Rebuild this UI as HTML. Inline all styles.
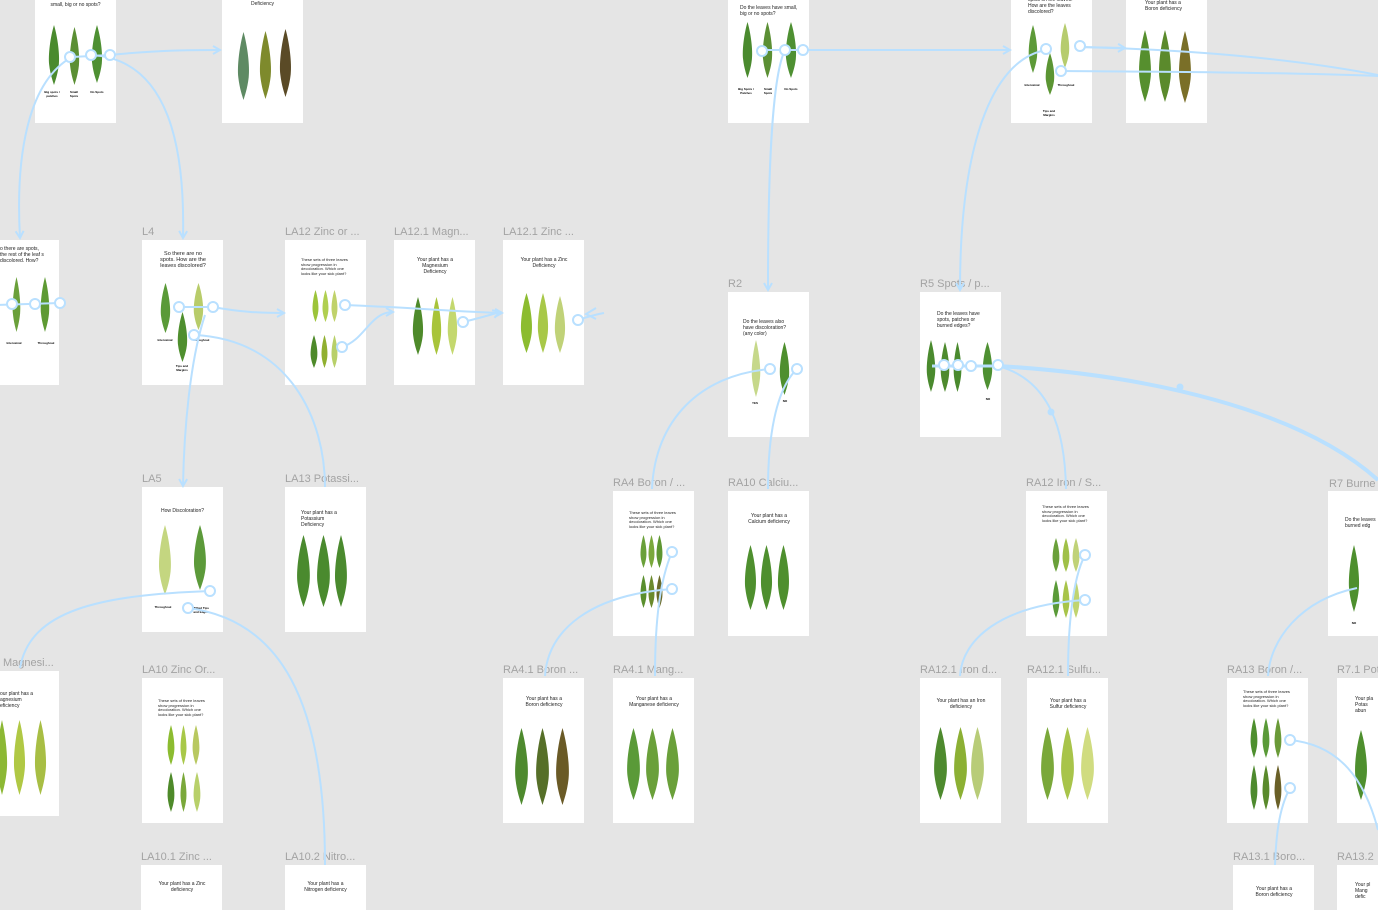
<!DOCTYPE html>
<html style="height:910px;overflow:hidden"><head><meta charset="utf-8"><style>
body{margin:0;width:1378px;height:910px;overflow:hidden;background:#e5e5e5;position:relative;font-family:"Liberation Sans",sans-serif}
.c{position:absolute;background:#fff;width:81px;height:145px}
.b{height:45px}
.l{position:absolute;color:#a3a3a3;font-size:11px;white-space:nowrap}
.t{position:absolute;font-size:5px;line-height:6px;color:#222;text-align:center}
.s{position:absolute;font-size:3px;line-height:4px;color:#000;font-weight:bold;text-align:center}
svg{position:absolute;left:0;top:0}
</style></head><body>
<div class="c" style="left:35px;top:-22px"></div><div class="t" style="left:35px;top:2px;width:81px">small, big or no spots?</div>
<div class="s" style="left:42px;top:90px;width:20px">Big spots / patches</div><div class="s" style="left:66px;top:90px;width:16px">Small Spots</div><div class="s" style="left:88px;top:90px;width:18px">No Spots</div>
<div class="c" style="left:222px;top:-22px"></div><div class="t" style="left:222px;top:1px;width:81px">Deficiency</div>
<div class="c" style="left:728px;top:-22px"></div><div class="t" style="left:740px;top:5px;width:58px;text-align:left">Do the leaves have small, big or no spots?</div>
<div class="s" style="left:736px;top:87px;width:20px">Big Spots / Patches</div><div class="s" style="left:760px;top:87px;width:16px">Small Spots</div><div class="s" style="left:782px;top:87px;width:18px">No Spots</div>
<div class="c" style="left:1011px;top:-22px"></div><div class="t" style="left:1028px;top:-3px;width:48px;text-align:left">spots on the leaves. How are the leaves discolored?</div>
<div class="s" style="left:1020px;top:83px;width:24px">Interveinal</div><div class="s" style="left:1054px;top:83px;width:24px">Throughout</div><div class="s" style="left:1040px;top:109px;width:18px">Tips and Margins</div>
<div class="c" style="left:1126px;top:-22px"></div><div class="t" style="left:1145px;top:0px;width:45px;text-align:left">Your plant has a Boron deficiency</div>

<div class="c" style="left:-22px;top:240px"></div><div class="t" style="left:0px;top:246px;width:46px;text-align:left">o there are spots, the rest of the leaf s discolored. How?</div>
<div class="s" style="left:4px;top:341px;width:20px">Interveinal</div><div class="s" style="left:36px;top:341px;width:20px">Throughout</div>
<div class="l" style="left:142px;top:226px">L4</div><div class="c" style="left:142px;top:240px"></div><div class="t" style="left:158px;top:251px;width:50px;font-size:5.5px">So there are no spots. How are the leaves discolored?</div>
<div class="s" style="left:154px;top:338px;width:22px">Interveinal</div><div class="s" style="left:190px;top:338px;width:22px">Throughout</div><div class="s" style="left:172px;top:364px;width:20px">Tips and Margins</div>
<div class="l" style="left:285px;top:226px">LA12 Zinc or ...</div><div class="c" style="left:285px;top:240px"></div><div class="t" style="left:301px;top:258px;width:48px;text-align:left;font-size:4px;line-height:4.5px">These sets of three leaves show progression in decoloration. Which one looks like your sick plant?</div>
<div class="l" style="left:394px;top:226px">LA12.1 Magn...</div><div class="c" style="left:394px;top:240px"></div><div class="t" style="left:410px;top:257px;width:50px">Your plant has a Magnesium Deficiency</div>
<div class="l" style="left:503px;top:226px">LA12.1 Zinc ...</div><div class="c" style="left:503px;top:240px"></div><div class="t" style="left:519px;top:257px;width:50px">Your plant has a Zinc Deficiency</div>
<div class="l" style="left:728px;top:278px">R2</div><div class="c" style="left:728px;top:292px"></div><div class="t" style="left:743px;top:319px;width:50px;text-align:left">Do the leaves also have discoloration? (any color)</div>
<div class="s" style="left:748px;top:401px;width:14px">YES</div><div class="s" style="left:778px;top:399px;width:14px">NO</div>
<div class="l" style="left:920px;top:278px">R5 Spots / p...</div><div class="c" style="left:920px;top:292px"></div><div class="t" style="left:937px;top:311px;width:50px;text-align:left">Do the leaves have spots, patches or burned edges?</div>
<div class="s" style="left:982px;top:397px;width:12px">NO</div>

<div class="l" style="left:142px;top:473px">LA5</div><div class="c" style="left:142px;top:487px"></div><div class="t" style="left:142px;top:508px;width:81px">How Discoloration?</div>
<div class="s" style="left:150px;top:605px;width:26px">Throughout</div><div class="s" style="left:190px;top:606px;width:22px">Wilted Tips and Edges</div>
<div class="l" style="left:285px;top:473px">LA13 Potassi...</div><div class="c" style="left:285px;top:487px"></div><div class="t" style="left:301px;top:510px;width:45px;text-align:left">Your plant has a Potassium Deficiency</div>
<div class="l" style="left:613px;top:477px">RA4 Boron / ...</div><div class="c" style="left:613px;top:491px"></div><div class="t" style="left:629px;top:511px;width:48px;text-align:left;font-size:4px;line-height:4.5px">These sets of three leaves show progression in decoloration. Which one looks like your sick plant?</div>
<div class="l" style="left:728px;top:477px">RA10 Calciu...</div><div class="c" style="left:728px;top:491px"></div><div class="t" style="left:743px;top:513px;width:52px">Your plant has a Calcium deficiency</div>
<div class="l" style="left:1026px;top:477px">RA12 Iron / S...</div><div class="c" style="left:1026px;top:491px"></div><div class="t" style="left:1042px;top:505px;width:48px;text-align:left;font-size:4px;line-height:4.5px">These sets of three leaves show progression in decoloration. Which one looks like your sick plant?</div>
<div class="l" style="left:1329px;top:478px">R7 Burne</div><div class="c" style="left:1328px;top:491px"></div><div class="t" style="left:1345px;top:517px;width:40px;text-align:left">Do the leaves burned edg</div><div class="s" style="left:1348px;top:621px;width:12px">NO</div>

<div class="l" style="left:3px;top:657px">Magnesi...</div><div class="c" style="left:-22px;top:671px"></div><div class="t" style="left:0px;top:691px;width:38px;text-align:left">our plant has a agnesium eficiency</div>
<div class="l" style="left:142px;top:664px">LA10 Zinc Or...</div><div class="c" style="left:142px;top:678px"></div><div class="t" style="left:158px;top:699px;width:48px;text-align:left;font-size:4px;line-height:4.5px">These sets of three leaves show progression in decoloration. Which one looks like your sick plant?</div>
<div class="l" style="left:503px;top:664px">RA4.1 Boron ...</div><div class="c" style="left:503px;top:678px"></div><div class="t" style="left:519px;top:696px;width:50px">Your plant has a Boron deficiency</div>
<div class="l" style="left:613px;top:664px">RA4.1 Mang...</div><div class="c" style="left:613px;top:678px"></div><div class="t" style="left:629px;top:696px;width:50px">Your plant has a Manganese deficiency</div>
<div class="l" style="left:920px;top:664px">RA12.1 Iron d...</div><div class="c" style="left:920px;top:678px"></div><div class="t" style="left:936px;top:698px;width:50px">Your plant has an Iron deficiency</div>
<div class="l" style="left:1027px;top:664px">RA12.1 Sulfu...</div><div class="c" style="left:1027px;top:678px"></div><div class="t" style="left:1043px;top:698px;width:50px">Your plant has a Sulfur deficiency</div>
<div class="l" style="left:1227px;top:664px">RA13 Boron /...</div><div class="c" style="left:1227px;top:678px"></div><div class="t" style="left:1243px;top:690px;width:48px;text-align:left;font-size:4px;line-height:4.5px">These sets of three leaves show progression in decoloration. Which one looks like your sick plant?</div>
<div class="l" style="left:1337px;top:664px">R7.1 Pot</div><div class="c" style="left:1337px;top:678px"></div><div class="t" style="left:1355px;top:696px;width:25px;text-align:left">Your pla Potas abun</div>
<div class="l" style="left:141px;top:851px">LA10.1 Zinc ...</div><div class="c b" style="left:141px;top:865px"></div><div class="t" style="left:157px;top:881px;width:50px">Your plant has a Zinc deficiency</div>
<div class="l" style="left:285px;top:851px">LA10.2 Nitro...</div><div class="c b" style="left:285px;top:865px"></div><div class="t" style="left:298px;top:881px;width:55px">Your plant has a Nitrogen deficiency</div>
<div class="l" style="left:1233px;top:851px">RA13.1 Boro...</div><div class="c b" style="left:1233px;top:865px"></div><div class="t" style="left:1249px;top:886px;width:50px">Your plant has a Boron deficiency</div>
<div class="l" style="left:1337px;top:851px">RA13.2</div><div class="c b" style="left:1337px;top:865px"></div><div class="t" style="left:1355px;top:882px;width:22px;text-align:left">Your pl Mang defic</div>

<svg width="1378" height="910" viewBox="0 0 1378 910">
<defs>
<symbol id="f" viewBox="0 0 10 60" preserveAspectRatio="none"><path d="M5 0 C8 12 10 30 9 40 C8 50 6 56 5 60 C4 56 2 50 1 40 C0 30 2 12 5 0Z"/></symbol>
<marker id="a" markerWidth="10" markerHeight="10" refX="8" refY="5" orient="auto" markerUnits="userSpaceOnUse"><path d="M1 1 L8 5 L1 9" fill="none" stroke="#b9e0ff" stroke-width="2"/></marker>
</defs>
<g>
<use href="#f" x="48" y="25" width="12" height="60" fill="#4a8a2e"/><use href="#f" x="69" y="27" width="11" height="58" fill="#5b8f34"/><use href="#f" x="91" y="25" width="12" height="58" fill="#4e9032"/>
<use href="#f" x="237" y="32" width="13" height="68" fill="#5e8a63"/><use href="#f" x="259" y="31" width="13" height="68" fill="#7e8a2c"/><use href="#f" x="279" y="29" width="13" height="68" fill="#5a4a26"/>
<use href="#f" x="742" y="22" width="11" height="56" fill="#4a8a2e"/><use href="#f" x="762" y="22" width="11" height="56" fill="#5b8f34"/><use href="#f" x="785" y="22" width="12" height="56" fill="#4e9032"/>
<use href="#f" x="1028" y="25" width="10" height="48" fill="#5d9a38"/><use href="#f" x="1045" y="53" width="10" height="42" fill="#5b9533"/><use href="#f" x="1060" y="23" width="10" height="45" fill="#b6cc6e"/>
<use href="#f" x="1138" y="30" width="14" height="72" fill="#568f2e"/><use href="#f" x="1158" y="30" width="14" height="72" fill="#5b8a2c"/><use href="#f" x="1178" y="31" width="14" height="72" fill="#7a6f28"/>
<use href="#f" x="12" y="277" width="9" height="55" fill="#6aa03a"/><use href="#f" x="40" y="277" width="10" height="55" fill="#5e9a33"/>
<use href="#f" x="160" y="283" width="11" height="50" fill="#5a9a38"/><use href="#f" x="193" y="283" width="11" height="47" fill="#b8cc6a"/><use href="#f" x="177" y="312" width="11" height="50" fill="#4f8f2e"/>
<use href="#f" x="312" y="290" width="7" height="32" fill="#9cc43a"/><use href="#f" x="322" y="290" width="7" height="32" fill="#b0cf50"/><use href="#f" x="331" y="290" width="7" height="32" fill="#c0d26a"/>
<use href="#f" x="310" y="335" width="8" height="33" fill="#4e8a2a"/><use href="#f" x="321" y="335" width="7" height="33" fill="#90b030"/><use href="#f" x="331" y="335" width="7" height="33" fill="#b8d06a"/>
<use href="#f" x="412" y="297" width="12" height="58" fill="#4e8a2a"/><use href="#f" x="431" y="297" width="11" height="58" fill="#a8c43a"/><use href="#f" x="447" y="297" width="11" height="58" fill="#c4d86e"/>
<use href="#f" x="520" y="293" width="13" height="60" fill="#8cbc30"/><use href="#f" x="537" y="293" width="12" height="60" fill="#a8c848"/><use href="#f" x="554" y="296" width="12" height="57" fill="#c0d278"/>
<use href="#f" x="751" y="340" width="10" height="57" fill="#c6d88a"/><use href="#f" x="779" y="342" width="11" height="53" fill="#4e8f2e"/>
<use href="#f" x="926" y="340" width="10" height="52" fill="#4a8a2e"/><use href="#f" x="940" y="342" width="10" height="50" fill="#4e8a2e"/><use href="#f" x="953" y="342" width="9" height="50" fill="#4a8a2e"/><use href="#f" x="982" y="342" width="11" height="48" fill="#4e9032"/>
<use href="#f" x="158" y="525" width="14" height="70" fill="#c4d680"/><use href="#f" x="193" y="525" width="14" height="65" fill="#5c9a3a"/>
<use href="#f" x="296" y="535" width="15" height="72" fill="#4a8a2e"/><use href="#f" x="316" y="535" width="15" height="72" fill="#4a8a2e"/><use href="#f" x="334" y="535" width="14" height="72" fill="#4a8a2e"/>
<use href="#f" x="640" y="535" width="7" height="33" fill="#6aa03a"/><use href="#f" x="648" y="535" width="7" height="33" fill="#7aa83c"/><use href="#f" x="656" y="535" width="7" height="33" fill="#5e9632"/>
<use href="#f" x="640" y="575" width="7" height="33" fill="#5a8f2e"/><use href="#f" x="648" y="575" width="7" height="33" fill="#6b8a2c"/><use href="#f" x="656" y="575" width="7" height="33" fill="#6a6a28"/>
<use href="#f" x="744" y="545" width="13" height="65" fill="#4e8f2e"/><use href="#f" x="760" y="545" width="13" height="65" fill="#4e8f2e"/><use href="#f" x="777" y="545" width="13" height="65" fill="#4e8f2e"/>
<use href="#f" x="1052" y="538" width="8" height="34" fill="#6aa03a"/><use href="#f" x="1062" y="538" width="8" height="34" fill="#a0c048"/><use href="#f" x="1072" y="538" width="8" height="34" fill="#c0d278"/>
<use href="#f" x="1052" y="580" width="8" height="38" fill="#5a9a38"/><use href="#f" x="1062" y="580" width="8" height="38" fill="#a8c44a"/><use href="#f" x="1072" y="580" width="8" height="38" fill="#c0d470"/>
<use href="#f" x="1348" y="545" width="12" height="67" fill="#4e8f2e"/>
<use href="#f" x="-4" y="720" width="12" height="75" fill="#8cb834"/><use href="#f" x="13" y="720" width="13" height="75" fill="#b0c844"/><use href="#f" x="34" y="720" width="13" height="75" fill="#a8be44"/>
<use href="#f" x="167" y="725" width="8" height="40" fill="#8cbc30"/><use href="#f" x="180" y="725" width="7" height="40" fill="#a8c848"/><use href="#f" x="192" y="725" width="8" height="40" fill="#b8c860"/>
<use href="#f" x="167" y="772" width="8" height="40" fill="#4e8a2a"/><use href="#f" x="180" y="772" width="7" height="40" fill="#7aa83a"/><use href="#f" x="193" y="772" width="8" height="40" fill="#b8d06a"/>
<use href="#f" x="514" y="728" width="15" height="77" fill="#4e8a2e"/><use href="#f" x="535" y="728" width="15" height="77" fill="#566f28"/><use href="#f" x="555" y="728" width="15" height="77" fill="#6a5a26"/>
<use href="#f" x="626" y="728" width="15" height="72" fill="#5a9a38"/><use href="#f" x="645" y="728" width="15" height="72" fill="#6aa03a"/><use href="#f" x="665" y="728" width="15" height="72" fill="#6aa03a"/>
<use href="#f" x="933" y="727" width="15" height="73" fill="#4e8a2e"/><use href="#f" x="953" y="727" width="15" height="73" fill="#8cb034"/><use href="#f" x="970" y="727" width="15" height="73" fill="#b8cc78"/>
<use href="#f" x="1040" y="727" width="15" height="73" fill="#7aa83a"/><use href="#f" x="1060" y="727" width="15" height="73" fill="#a8c44a"/><use href="#f" x="1080" y="727" width="15" height="73" fill="#d0dc80"/>
<use href="#f" x="1250" y="718" width="8" height="40" fill="#4e8f2e"/><use href="#f" x="1262" y="718" width="8" height="40" fill="#5a9a38"/><use href="#f" x="1274" y="718" width="8" height="40" fill="#6a9a38"/>
<use href="#f" x="1250" y="765" width="8" height="45" fill="#4e8a2e"/><use href="#f" x="1262" y="765" width="8" height="45" fill="#5a8a2c"/><use href="#f" x="1274" y="765" width="8" height="45" fill="#6a6028"/>
<use href="#f" x="1354" y="730" width="14" height="70" fill="#4e8f2e"/>
</g>
<g fill="none" stroke="#b9e0ff" stroke-width="2">
<path d="M110 55 C160 50 190 50 220 50" marker-end="url(#a)"/>
<path d="M92 55 C170 60 185 150 183 238" marker-end="url(#a)"/>
<path d="M72 57 C30 80 15 150 20 238" marker-end="url(#a)"/>
<path d="M72 57 L110 55"/>
<path d="M-5 305 L60 303"/>
<path d="M180 307 L213 307 C240 312 260 313 284 313" marker-end="url(#a)"/>
<path d="M195 335 C290 340 325 420 325 487"/>
<path d="M205 315 C190 360 184 430 183 486" marker-end="url(#a)"/>
<path d="M345 305 C420 308 460 312 502 313" marker-end="url(#a)"/>
<path d="M342 347 C365 340 370 312 393 312" marker-end="url(#a)"/>
<path d="M463 322 C480 318 490 315 500 312" marker-end="url(#a)"/>
<path d="M578 320 C590 316 598 314 604 313"/><path d="M596 308 L586 314 L596 319"/>
<path d="M210 591 C100 595 30 610 20 668"/>
<path d="M188 608 C280 620 325 700 325 865"/>
<path d="M762 50 L803 50 L1010 50" marker-end="url(#a)"/>
<path d="M785 50 C770 80 768 200 768 290" marker-end="url(#a)"/>
<path d="M1062 71 C1200 72 1300 73 1378 76"/>
<path d="M1080 47 L1125 48" marker-end="url(#a)"/>
<path d="M1080 47 C1200 50 1300 60 1378 75"/>
<path d="M1046 50 C990 60 960 150 960 290" marker-end="url(#a)"/>
<path d="M770 369 C700 375 655 420 652 489"/>
<path d="M797 369 C775 390 768 440 768 489"/>
<path d="M998 366 C1050 380 1065 430 1066 489"/>
<path d="M932 366 L998 366" stroke-width="3"/>
<path d="M998 366 C1150 375 1300 410 1378 480" stroke-width="4"/>
<path d="M672 589 C590 595 548 630 545 676"/>
<path d="M672 552 C660 580 655 620 655 676"/>
<path d="M1085 600 C1000 605 962 640 960 676"/>
<path d="M1085 555 C1072 580 1068 630 1068 676"/>
<path d="M1357 588 C1300 600 1270 640 1268 676"/>
<path d="M1290 740 C1340 745 1365 780 1378 830"/>
<path d="M1290 788 C1278 810 1276 840 1275 865"/>
</g>
<g fill="#b9e0ff"><circle cx="1051" cy="412" r="3.5"/><circle cx="1180" cy="387" r="3.5"/></g>
<g fill="#fff" stroke="#b9e0ff" stroke-width="2">
<circle cx="70" cy="57" r="5"/><circle cx="91" cy="55" r="5"/><circle cx="110" cy="55" r="5"/>
<circle cx="762" cy="51" r="5"/><circle cx="785" cy="50" r="5"/><circle cx="803" cy="50" r="5"/>
<circle cx="1046" cy="49" r="5"/><circle cx="1080" cy="46" r="5"/><circle cx="1061" cy="71" r="5"/>
<circle cx="12" cy="304" r="5"/><circle cx="35" cy="304" r="5"/><circle cx="60" cy="303" r="5"/>
<circle cx="179" cy="307" r="5"/><circle cx="213" cy="307" r="5"/><circle cx="194" cy="335" r="5"/>
<circle cx="345" cy="305" r="5"/><circle cx="342" cy="347" r="5"/><circle cx="463" cy="322" r="5"/><circle cx="578" cy="320" r="5"/>
<circle cx="770" cy="369" r="5"/><circle cx="797" cy="369" r="5"/>
<circle cx="944" cy="365" r="5"/><circle cx="958" cy="365" r="5"/><circle cx="971" cy="366" r="5"/><circle cx="998" cy="365" r="5"/>
<circle cx="210" cy="591" r="5"/><circle cx="188" cy="608" r="5"/>
<circle cx="672" cy="552" r="5"/><circle cx="672" cy="589" r="5"/>
<circle cx="1085" cy="555" r="5"/><circle cx="1085" cy="600" r="5"/>
<circle cx="1290" cy="740" r="5"/><circle cx="1290" cy="788" r="5"/>
</g>
</svg>
</body></html>
